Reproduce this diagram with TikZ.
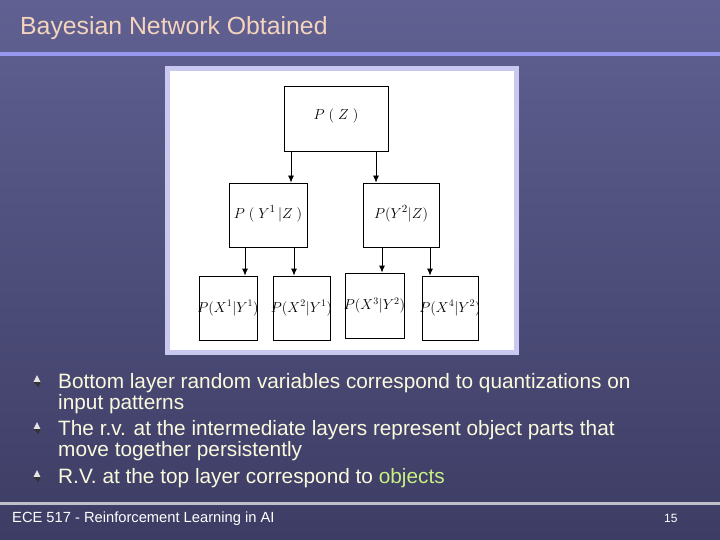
\documentclass[tikz,border=0pt]{standalone}
\usepackage{fontspec}
\setmainfont{Liberation Sans}
\usetikzlibrary{arrows.meta,calc}
\definecolor{bgtop}{RGB}{96,96,146}
\definecolor{bgbot}{RGB}{60,60,100}
\definecolor{titlec}{RGB}{245,212,190}
\definecolor{rulec}{RGB}{152,152,238}
\definecolor{footrule}{RGB}{192,192,200}
\definecolor{framec}{RGB}{200,200,240}
\definecolor{bodyc}{RGB}{250,250,222}
\definecolor{objc}{RGB}{200,240,130}
\newcommand{\zw}[1]{\makebox[0pt]{#1}}
\tikzset{
  pbox/.style={draw=black,line width=0.8pt,fill=white,inner sep=0pt,font=\fontsize{15}{17}\selectfont},
  sbox/.style={pbox,font=\fontsize{13.8}{16}\selectfont},
  arr/.style={-{Latex[length=7pt,width=6pt]},line width=0.8pt,black},
  bullettext/.style={anchor=base west,text=bodyc,font=\fontsize{20.8}{23}\selectfont,inner sep=0pt},
}
\begin{document}
\begin{tikzpicture}[x=1pt,y=-1pt]
\useasboundingbox (0,0) rectangle (720,540);
\shade[top color=bgtop,bottom color=bgbot] (0,0) rectangle (720,540);
% title
\node[anchor=base west,text=titlec,font=\fontsize{24.8}{27}\selectfont,inner sep=0pt] (title) at (20,35) {Bayesian Network Obtained};
\fill[rulec] (0,52.5) rectangle (720,56);
% figure frame
\fill[framec] (165,66) rectangle (519,355);
\fill[white] (170,71) rectangle (514,350);
% nodes
\node[pbox,minimum width=104pt,minimum height=65pt,text depth=9pt] (pz) at (336,118.5) {\zw{$P\;(\;Z\;)$}};
\node[pbox,minimum width=78pt,minimum height=64pt,text depth=6pt] (y1) at (268,215) {\zw{$P\;(\;Y^1\,|Z\;)$}};
\node[pbox,minimum width=76pt,minimum height=64pt,text depth=6pt] (y2) at (401,215) {\zw{$P(Y^2|Z)$}};
\node[sbox,minimum width=58pt,minimum height=64pt] (x1) at (228,308) {\zw{$P(X^1|Y^1)$}};
\node[sbox,minimum width=57pt,minimum height=64pt] (x2) at (301.5,308) {\zw{$P(X^2|Y^1)$}};
\node[sbox,minimum width=59pt,minimum height=65pt] (x3) at (374.5,305.5) {\zw{$P(X^3|Y^2)$}};
\node[sbox,minimum width=56pt,minimum height=64pt] (x4) at (450,308) {\zw{$P(X^4|Y^2)$}};
% arrow columns
\coordinate (c1) at (291,0);
\coordinate (c2) at (376,0);
\coordinate (c3) at (245,0);
\coordinate (c4) at (294,0);
\coordinate (c5) at (382,0);
\coordinate (c6) at (430,0);
\draw[arr] (pz.south -| c1) -- (y1.north -| c1);
\draw[arr] (pz.south -| c2) -- (y2.north -| c2);
\draw[arr] (y1.south -| c3) -- (x1.north -| c3);
\draw[arr] (y1.south -| c4) -- (x2.north -| c4);
\draw[arr] (y2.south -| c5) -- (x3.north -| c5);
\draw[arr] (y2.south -| c6) -- (x4.north -| c6);
% bullets
\foreach \yy/\nm in {381/b1,428/b2,476/b3}{
  \fill[gray!20] (37,\yy-6) -- (40.5,\yy+1) -- (33.5,\yy+1) -- cycle;
  \fill[black!80] (33.5,\yy+1) -- (40.5,\yy+1) -- (38.5,\yy+6) -- cycle;
}
\node[bullettext] (t1) at (58,388) {Bottom layer random variables correspond to quantizations on};
\node[bullettext] (t1b) at (58,409) {input patterns};
\node[bullettext] (t2) at (58,435) {The r.v. at the intermediate layers represent object parts that};
\node[bullettext] (t2b) at (58,456) {move together persistently};
\node[bullettext] (t3) at (58,483) {R.V. at the top layer correspond to \textcolor{objc}{objects}};
% footer
\fill[footrule] (0,501.5) rectangle (720,505);
\node[anchor=base west,text=white,font=\fontsize{14.7}{16}\selectfont,inner sep=0pt] (foot) at (12,522) {ECE 517 - Reinforcement Learning in AI};
\node[anchor=base west,text=white,font=\fontsize{12}{14}\selectfont,inner sep=0pt] (page) at (664,522) {15};
\end{tikzpicture}
\end{document}
